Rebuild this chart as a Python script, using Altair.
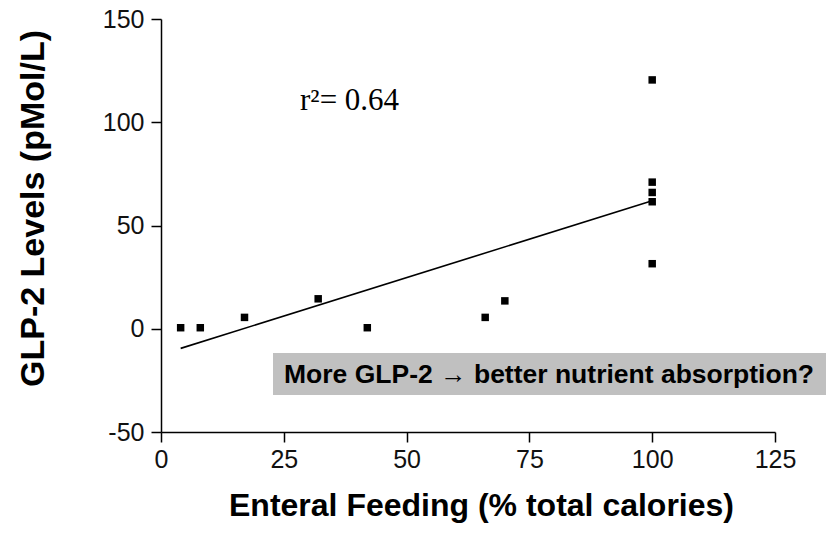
import altair as alt
import pandas as pd

# Data
feeding = [4, 8, 17, 32, 42, 66, 70, 100, 100, 100, 100, 100]
glp2 = [0.5, 0.5, 5.5, 14.5, 0.5, 5.5, 13.5, 120.5, 71, 66, 61.5, 31.5]

fit_x = [4, 100]
fit_y = [-9.5, 62]

x_ticks = [0, 25, 50, 75, 100, 125]
y_ticks = [-50, 0, 50, 100, 150]

r2_label = ["r\u00b2= 0.64"]
r2_pos_x = [28.3]
r2_pos_y = [106]

note_text = "More GLP-2 \u2192 better nutrient absorption?"

pts = pd.DataFrame({"feeding": feeding, "glp2": glp2})
fit = pd.DataFrame({"feeding": fit_x, "glp2": fit_y})
r2 = pd.DataFrame({"feeding": r2_pos_x, "glp2": r2_pos_y, "label": r2_label})
one = pd.DataFrame({"t": [note_text]})

xscale = alt.Scale(domain=[0, 125], nice=False, zero=False)
yscale = alt.Scale(domain=[-50, 150], nice=False, zero=False)

xaxis = alt.Axis(
    values=x_ticks, title="Enteral Feeding (% total calories)", grid=False,
    domainColor="black", domainWidth=1.5, tickColor="black", tickWidth=1.5, tickSize=10,
    labelFont="Liberation Sans", labelFontSize=25, labelColor="#111", labelPadding=5,
    labelFlush=False,
    titleFont="Liberation Sans", titleFontSize=32, titleFontWeight="bold", titleColor="black",
    titleX=320, titleY=73, titleBaseline="middle", titleAnchor="middle",
)
yaxis = alt.Axis(
    values=y_ticks, title="GLP-2 Levels (pMol/L)", grid=False,
    domainColor="black", domainWidth=1.5, tickColor="black", tickWidth=1.5, tickSize=10,
    labelFont="Liberation Sans", labelFontSize=25, labelColor="#111", labelPadding=7,
    labelExpr="replace(datum.label, '\u2212', '-')", labelFlush=False,
    titleFont="Liberation Sans", titleFontSize=34, titleFontWeight="bold", titleColor="black",
    titleX=-128, titleY=189, titleBaseline="middle", titleAngle=-90,
)

points = alt.Chart(pts).mark_square(size=56, color="black", opacity=1).encode(
    x=alt.X("feeding:Q", scale=xscale, axis=xaxis),
    y=alt.Y("glp2:Q", scale=yscale, axis=yaxis),
)

line = alt.Chart(fit).mark_line(color="black", strokeWidth=1.6).encode(
    x=alt.X("feeding:Q", scale=xscale),
    y=alt.Y("glp2:Q", scale=yscale),
)

r2_text = alt.Chart(r2).mark_text(
    align="left", baseline="alphabetic", font="Liberation Serif", fontSize=31, color="black"
).encode(
    x=alt.X("feeding:Q", scale=xscale),
    y=alt.Y("glp2:Q", scale=yscale),
    text="label:N",
)

box = alt.Chart(one).mark_rect(color="#c0c0c0").encode(
    x=alt.value(112), x2=alt.value(665), y=alt.value(334), y2=alt.value(376)
)
box_text = alt.Chart(one).mark_text(
    font="Liberation Sans", fontSize=26.5, fontWeight="bold", color="black",
    align="center", baseline="middle",
).encode(x=alt.value(388), y=alt.value(356), text="t:N")

chart = alt.layer(line, points, r2_text, box, box_text).properties(
    width=614, height=413,
    padding={"left": 161, "top": 19, "right": 51, "bottom": 103},
    autosize=alt.AutoSizeParams(type="none"),
    background="white",
).configure_view(stroke=None)

chart.save("out.html", embed_options={"renderer": "svg", "actions": False})
